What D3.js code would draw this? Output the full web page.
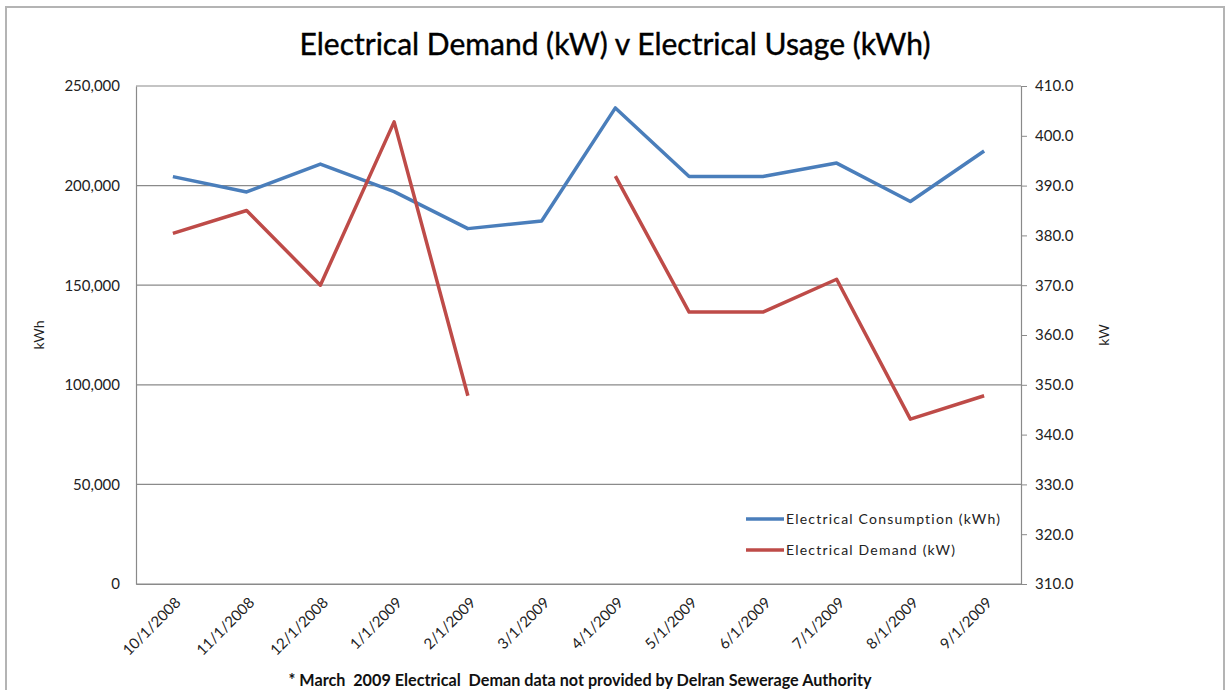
<!DOCTYPE html>
<html>
<head>
<meta charset="utf-8">
<script src="https://cdn.jsdelivr.net/npm/d3@7"></script>
<style>
  html, body { margin: 0; padding: 0; background: #fff; }
  svg text { font-family: Lato, "Noto Sans", sans-serif; }
</style>
</head>
<body>
<svg id="chart" width="1230" height="690"></svg>
<script>
const categories = ["10/1/2008","11/1/2008","12/1/2008","1/1/2009","2/1/2009","3/1/2009","4/1/2009","5/1/2009","6/1/2009","7/1/2009","8/1/2009","9/1/2009"];
const consumptionKWh = [204500, 196800, 210800, 197000, 178400, 182200, 239000, 204600, 204600, 211300, 192000, 217400];
const demandKW = [380.4, 385.0, 370.0, 402.8, 347.8, null, 391.9, 364.6, 364.6, 371.2, 343.1, 347.8];
const leftTicks = [0, 50000, 100000, 150000, 200000, 250000];
const rightTicks = [310, 320, 330, 340, 350, 360, 370, 380, 390, 400, 410];
const seriesNames = ["Electrical Consumption (kWh)", "Electrical Demand (kW)"];
const titleText = "Electrical Demand (kW) v Electrical Usage (kWh)";
const footnoteText = "* March  2009 Electrical  Deman data not provided by Delran Sewerage Authority";

const svg = d3.select("#chart");
const plot = { left: 136, right: 1021, top: 86, bottom: 584 };
const blue = "#4a7ebb", red = "#be4b48", grid = "#8a8a8a";

// outer frame
svg.append("rect").attr("x", 6).attr("y", 7).attr("width", 1218).attr("height", 700)
  .attr("fill", "#fff").attr("stroke", "#b4b4b4").attr("stroke-width", 2);

const x = d3.scaleBand().domain(categories).range([plot.left, plot.right]).padding(0);
const yL = d3.scaleLinear().domain([0, 250000]).range([plot.bottom, plot.top]);
const yR = d3.scaleLinear().domain([310, 410]).range([plot.bottom, plot.top]);
const cx = d => x(d) + x.bandwidth() / 2;

// gridlines
svg.append("g").selectAll("line").data(leftTicks).join("line")
  .attr("x1", plot.left).attr("x2", plot.right)
  .attr("y1", d => yL(d)).attr("y2", d => yL(d))
  .attr("stroke", grid).attr("stroke-width", 1.2);

// left axis
const gL = svg.append("g").attr("transform", `translate(${plot.left},0)`)
  .call(d3.axisLeft(yL).tickValues(leftTicks).tickSize(0).tickPadding(16).tickFormat(d3.format(",")));
gL.select(".domain").attr("stroke", grid).attr("stroke-width", 1.2);
gL.selectAll("text").attr("font-size", 15).attr("fill", "#222").style("font-family", "Lato, sans-serif");

// right axis
const gR = svg.append("g").attr("transform", `translate(${plot.right},0)`)
  .call(d3.axisRight(yR).tickValues(rightTicks).tickSize(6).tickPadding(8).tickFormat(d3.format(".1f")));
gR.select(".domain").attr("stroke", grid).attr("stroke-width", 1.2);
gR.selectAll(".tick line").attr("stroke", grid);
gR.selectAll("text").attr("font-size", 15).attr("fill", "#222").style("font-family", "Lato, sans-serif");

// bottom axis
const gB = svg.append("g").attr("transform", `translate(0,${plot.bottom})`)
  .call(d3.axisBottom(x).tickSize(0).tickPadding(0));
gB.select(".domain").attr("stroke", grid).attr("stroke-width", 1.2);
gB.selectAll("text")
  .attr("font-size", 15).attr("fill", "#222").style("font-family", "Lato, sans-serif")
  .attr("text-anchor", "end").attr("dy", "0.35em")
  .attr("transform", "translate(5,16) rotate(-45)");

// lines
const lineL = d3.line().x((d, i) => cx(categories[i])).y(d => yL(d));
const lineR = d3.line().defined(d => d != null).x((d, i) => cx(categories[i])).y(d => yR(d));
svg.append("path").datum(consumptionKWh).attr("d", lineL)
  .attr("fill", "none").attr("stroke", blue).attr("stroke-width", 3.5).attr("stroke-linejoin", "round");
svg.append("path").datum(demandKW).attr("d", lineR)
  .attr("fill", "none").attr("stroke", red).attr("stroke-width", 3.5).attr("stroke-linejoin", "round");

// axis titles
svg.append("text").attr("transform", "translate(44,335) rotate(-90)")
  .attr("text-anchor", "middle").attr("font-size", 14).attr("fill", "#222").text("kWh");
svg.append("text").attr("transform", "translate(1109,335) rotate(-90)")
  .attr("text-anchor", "middle").attr("font-size", 14).attr("fill", "#222").text("kW");

// title
svg.append("text").attr("x", 615).attr("y", 55).attr("text-anchor", "middle")
  .attr("font-size", 30).attr("fill", "#000").attr("stroke", "#000").attr("stroke-width", 0.4)
  .text(titleText);

// legend
const legend = svg.append("g");
[blue, red].forEach((c, i) => {
  const ly = 519 + i * 31;
  legend.append("line").attr("x1", 746).attr("x2", 784).attr("y1", ly).attr("y2", ly)
    .attr("stroke", c).attr("stroke-width", 3.5);
  legend.append("text").attr("x", 786).attr("y", ly).attr("dy", "0.35em")
    .attr("font-size", 14).attr("letter-spacing", "1.2px").attr("fill", "#222").text(seriesNames[i]);
});

// footnote
svg.append("text").attr("x", 580).attr("y", 686).attr("text-anchor", "middle")
  .style("white-space", "pre")
  .attr("font-size", 16.2).attr("font-weight", "bold").attr("fill", "#111").text(footnoteText);
</script>
</body>
</html>
